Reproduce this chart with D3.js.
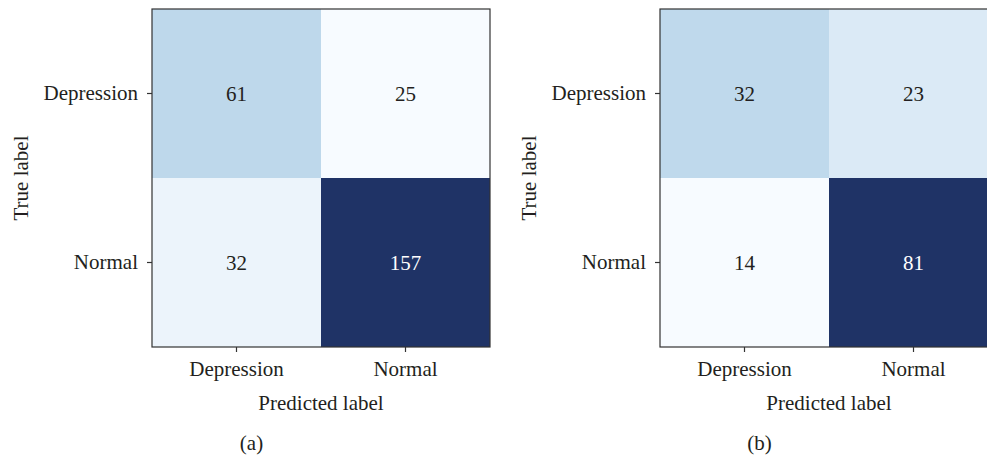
<!DOCTYPE html>
<html>
<head>
<meta charset="utf-8">
<script src="https://cdn.jsdelivr.net/npm/d3@7"></script>
<style>
  html, body { margin: 0; padding: 0; background: #fff; overflow: hidden; }
  svg { display: block; }
  text { font-family: "Liberation Serif", "DejaVu Serif", serif; fill: #231f20; }
</style>
</head>
<body>
<div id="chart"></div>
<script>
// --------------------------------------
//  Data
// --------------------------------------

const classes = ["Depression", "Normal"];
const matrixA = [[61, 25], [32, 157]];
const matrixB = [[32, 23], [14, 81]];
const panelLabels = ["(a)", "(b)"];

// --------------------------------------
//  Canvas
// --------------------------------------

const width = 987, height = 457;
const size = 338;          // side of each matrix square
const panelLeft = [152, 660];
const panelTop = 9;
const fontSize = "21px";

const svg = d3.select("#chart")
  .append("svg")
    .attr("width", width)
    .attr("height", height)
    .attr("viewBox", [0, 0, width, height]);

// colour: light -> navy, like the Blues map
const shade = d3.scaleLinear()
  .domain([0, 0.27, 1])
  .range(["#f7fbff", "#bfd9ec", "#1f3366"]);

function drawMatrix(left, matrix, label) {
  const g = svg.append("g")
      .attr("transform", `translate(${left}, ${panelTop})`);

  const x = d3.scaleBand().domain(classes).range([0, size]);
  const y = d3.scaleBand().domain(classes).range([0, size]);

  const flat = matrix.flat();
  const lo = d3.min(flat), hi = d3.max(flat);

  const cells = [];
  matrix.forEach((row, i) => row.forEach((v, j) => {
    cells.push({ truth: classes[i], pred: classes[j], value: v });
  }));

  g.selectAll("rect.cell")
    .data(cells)
    .join("rect")
      .attr("class", "cell")
      .attr("x", d => x(d.pred))
      .attr("y", d => y(d.truth))
      .attr("width", x.bandwidth())
      .attr("height", y.bandwidth())
      .attr("fill", d => shade((d.value - lo) / (hi - lo)));

  g.selectAll("text.val")
    .data(cells)
    .join("text")
      .attr("class", "val")
      .attr("x", d => x(d.pred) + x.bandwidth() / 2)
      .attr("y", d => y(d.truth) + y.bandwidth() / 2)
      .attr("dy", "0.35em")
      .attr("text-anchor", "middle")
      .style("font-size", fontSize)
      .style("fill", d => (d.value - lo) / (hi - lo) > 0.5 ? "#ffffff" : "#231f20")
      .text(d => d.value);

  // frame
  g.append("rect")
    .attr("width", size)
    .attr("height", size)
    .attr("fill", "none")
    .attr("stroke", "#333")
    .attr("stroke-width", 1.2);

  // axes
  const xAxis = g.append("g")
      .attr("transform", `translate(0, ${size})`)
      .call(d3.axisBottom(x).tickSize(5).tickPadding(9));
  const yAxis = g.append("g")
      .call(d3.axisLeft(y).tickSize(5).tickPadding(9));

  [xAxis, yAxis].forEach(a => {
    a.select(".domain").remove();
    a.selectAll("line").attr("stroke", "#333").attr("stroke-width", 1.2);
    a.selectAll("text")
      .style("font-size", fontSize)
      .style("font-family", "\"Liberation Serif\", serif")
      .attr("fill", "#231f20");
  });

  g.append("text")
    .attr("x", size / 2)
    .attr("y", size + 63)
    .attr("text-anchor", "middle")
    .style("font-size", fontSize)
    .text("Predicted label");

  g.append("text")
    .attr("transform", `translate(${-124}, ${size / 2}) rotate(-90)`)
    .attr("text-anchor", "middle")
    .style("font-size", fontSize)
    .text("True label");

  g.append("text")
    .attr("x", x("Depression") + x.bandwidth() / 2 + 15)
    .attr("y", size + 103)
    .attr("text-anchor", "middle")
    .style("font-size", fontSize)
    .text(label);
}

drawMatrix(panelLeft[0], matrixA, panelLabels[0]);
drawMatrix(panelLeft[1], matrixB, panelLabels[1]);
</script>
</body>
</html>
